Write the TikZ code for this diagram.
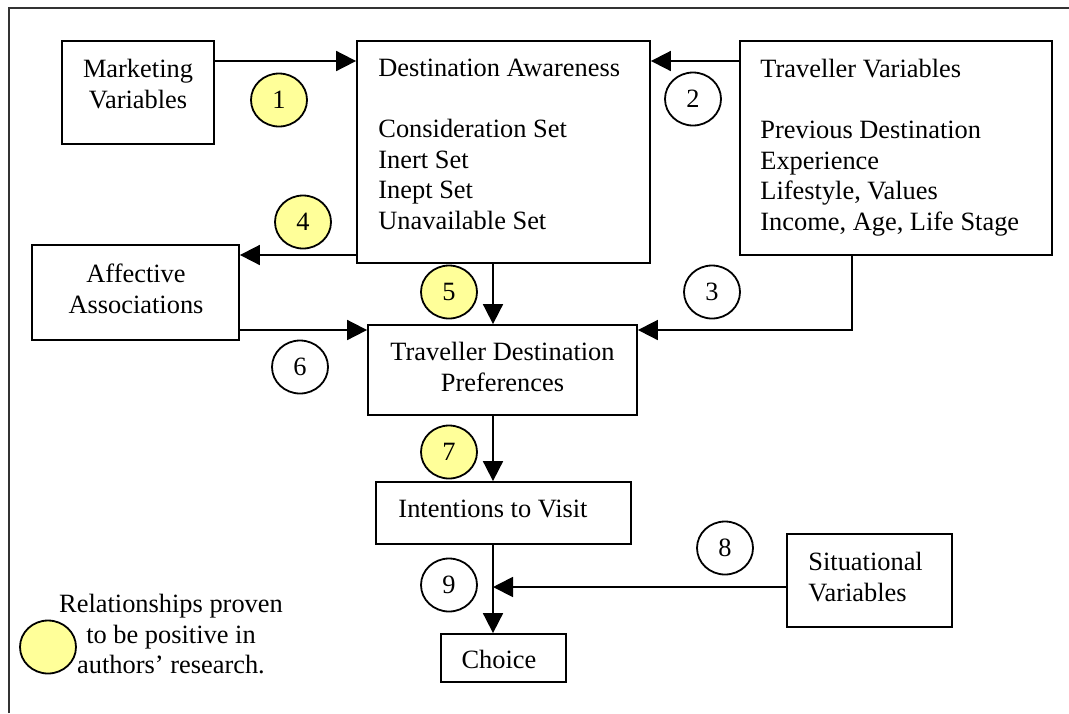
\documentclass[tikz,border=0pt]{standalone}
\usepackage{fontspec}
\setmainfont{Liberation Serif}
\usetikzlibrary{arrows.meta,shapes.geometric}

\definecolor{proven}{RGB}{255,255,153}

\tikzset{
  every node/.style={font=\fontsize{13.2pt}{15.25pt}\selectfont},
  frame/.style={line width=0.9pt, draw=black!80},
  box/.style={draw, rectangle, line width=0.9pt, inner sep=0pt},
  txt/.style={inner sep=0pt, align=left},
  ctxt/.style={inner sep=0pt, align=center},
  num/.style={draw, ellipse, line width=0.9pt, inner sep=0pt,
              minimum width=28pt, minimum height=26.5pt},
  provennum/.style={num, fill=proven},
  arr/.style={line width=0.9pt, -{Triangle[length=10pt,width=10pt]}},
}

\begin{document}
\begin{tikzpicture}[x=0.5pt, y=-0.5pt]
\useasboundingbox (0,0) rectangle (1069,713);

% outer frame (top and left edges)
\draw[frame] (9,713) -- (9,8) -- (1069,8);

% boxes
\node[box, minimum width=76pt,    minimum height=51.5pt] (mkt)    at (138,92.5)   {};
\node[box, minimum width=146.5pt, minimum height=111pt]  (dest)   at (503.5,152)  {};
\node[box, minimum width=156pt,   minimum height=107pt]  (trav)   at (896,148)    {};
\node[box, minimum width=103.5pt, minimum height=47.5pt] (aff)    at (135.5,292.5){};
\node[box, minimum width=134.5pt, minimum height=45pt]   (tdp)    at (502.5,370)  {};
\node[box, minimum width=127.5pt, minimum height=31pt]   (intent) at (503.5,513)  {};
\node[box, minimum width=62.5pt,  minimum height=24pt]   (choice) at (503.5,658)  {};
\node[box, minimum width=82.5pt,  minimum height=46.5pt] (sit)    at (869.5,580.5){};

% box texts
\node[ctxt, anchor=north] (mkt-t) at (138,59) {Marketing\\Variables};
\node[txt, anchor=north west] (dest-t) at (378,59)
  {Destination Awareness\\[15.25pt]Consideration Set\\Inert Set\\Inept Set\\Unavailable Set};
\node[txt, anchor=north west] (trav-t) at (760,59)
  {Traveller Variables\\[15.25pt]Previous Destination\\Experience\\Lifestyle, Values\\Income, Age, Life Stage};
\node[ctxt, anchor=north] (aff-t) at (136,264) {Affective\\Associations};
\node[ctxt, anchor=north] (tdp-t) at (502.5,342) {Traveller Destination\\Preferences};
\node[ctxt, anchor=north] (intent-t) at (493,500) {Intentions to Visit};
\node[ctxt, anchor=north] (choice-t) at (499,650) {Choice};
\node[txt, anchor=north west] (sit-t) at (808,552) {Situational\\Variables};

% routing helpers
\coordinate (spine) at (493,0);
\coordinate (r1) at (0,61);
\coordinate (r4) at (0,255);
\coordinate (r6) at (0,330);
\coordinate (r8) at (0,587);
\coordinate (c3) at (852,0);

% connectors
\draw[arr] (mkt.east |- r1) -- (dest.west |- r1);
\draw[arr] (trav.west |- r1) -- (dest.east |- r1);
\draw[arr] (dest.west |- r4) -- (aff.east |- r4);
\draw[arr] (aff.east |- r6) -- (tdp.west |- r6);
\draw[arr] (trav.south -| c3) -- (c3 |- r6) -- (tdp.east |- r6);
\draw[arr] (dest.south -| spine) -- (tdp.north -| spine);
\draw[arr] (tdp.south -| spine) -- (intent.north -| spine);
\draw[arr] (intent.south -| spine) -- (choice.north -| spine);
\draw[arr] (sit.west |- r8) -- (spine |- r8);

% relationship numbers
\node[provennum] (n1) at (279,100) {1};
\node[num] (n2) at (693,99)  {2};
\node[num] (n3) at (712,292) {3};
\node[provennum] (n4) at (303,222) {4};
\node[provennum] (n5) at (449,292) {5};
\node[num] (n6) at (300,367) {6};
\node[provennum] (n7) at (449,452) {7};
\node[num] (n8) at (725,548) {8};
\node[num] (n9) at (449,585) {9};

% legend
\node[provennum] (key) at (48,647) {};
\node[ctxt, anchor=north] (key-t) at (171,594)
  {Relationships proven\\to be positive in\\authors’ research.};
\end{tikzpicture}
\end{document}
